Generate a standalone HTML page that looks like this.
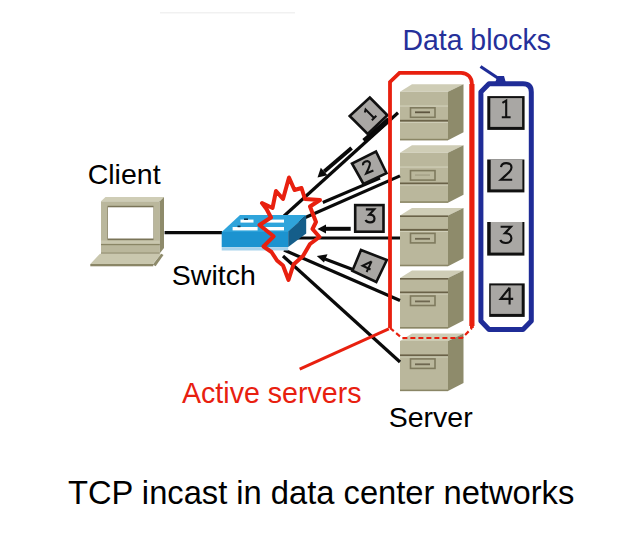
<!DOCTYPE html>
<html><head><meta charset="utf-8"><style>
html,body{margin:0;padding:0;background:#fff;width:640px;height:533px;overflow:hidden}
.t{position:absolute;font-family:"Liberation Sans",sans-serif;line-height:1;white-space:nowrap}
svg{position:absolute;left:0;top:0}
</style></head><body>
<svg width="640" height="533" viewBox="0 0 640 533">
<line x1="160" y1="12.7" x2="295" y2="12.7" stroke="#F1F1F1" stroke-width="1.4"/>
<polygon points="400,91.8 412,84.3 463.5,84.3 448,91.8" fill="#CFCDB6"/>
<rect x="400" y="91.8" width="48" height="48.5" fill="#BAB79C"/>
<polygon points="448,91.8 463.5,84.3 463.5,132.3 448,140.3" fill="#8E8B6B"/>
<rect x="400" y="105.3" width="48" height="1.5" fill="#CCCAB3"/>
<rect x="400" y="119.8" width="48" height="2" fill="#6A6248"/>
<rect x="400" y="121.8" width="48" height="1" fill="#D3D1BC"/>
<rect x="410.5" y="107.8" width="24.5" height="9.5" fill="none" stroke="#7F7A5E" stroke-width="1.6"/>
<rect x="415" y="111.39999999999999" width="15" height="1.8" fill="#5E5640"/>
<rect x="400" y="138.8" width="48" height="1.5" fill="#8A8666"/>
<polygon points="400,152.8 412,145.3 463.5,145.3 448,152.8" fill="#CFCDB6"/>
<rect x="400" y="152.8" width="48" height="50.0" fill="#BAB79C"/>
<polygon points="448,152.8 463.5,145.3 463.5,194.8 448,202.8" fill="#8E8B6B"/>
<rect x="400" y="166.3" width="48" height="1.5" fill="#CCCAB3"/>
<rect x="400" y="182.5" width="48" height="2" fill="#6A6248"/>
<rect x="400" y="184.5" width="48" height="1" fill="#D3D1BC"/>
<rect x="410.5" y="170.60000000000002" width="24.5" height="9.5" fill="none" stroke="#7F7A5E" stroke-width="1.6"/>
<rect x="415" y="174.20000000000002" width="15" height="1.8" fill="#A8A58A"/>
<rect x="400" y="201.3" width="48" height="1.5" fill="#8A8666"/>
<polygon points="400,215.4 412,207.9 463.5,207.9 448,215.4" fill="#CFCDB6"/>
<rect x="400" y="215.4" width="48" height="50.8" fill="#BAB79C"/>
<polygon points="448,215.4 463.5,207.9 463.5,258.2 448,266.2" fill="#8E8B6B"/>
<rect x="400" y="215.4" width="48" height="1.6" fill="#6A6248"/>
<rect x="400" y="228.9" width="48" height="2" fill="#6A6248"/>
<rect x="400" y="230.9" width="48" height="1" fill="#D3D1BC"/>
<rect x="410.5" y="233.4" width="24.5" height="9.5" fill="none" stroke="#7F7A5E" stroke-width="1.6"/>
<rect x="415" y="237.9" width="15" height="1.8" fill="#6E6750"/>
<rect x="400" y="264.7" width="48" height="1.5" fill="#8A8666"/>
<polygon points="400,278.0 412,270.5 463.5,270.5 448,278.0" fill="#CFCDB6"/>
<rect x="400" y="278.0" width="48" height="50.5" fill="#BAB79C"/>
<polygon points="448,278.0 463.5,270.5 463.5,320.5 448,328.5" fill="#8E8B6B"/>
<rect x="400" y="278.0" width="48" height="1.6" fill="#6A6248"/>
<rect x="400" y="291.5" width="48" height="2" fill="#6A6248"/>
<rect x="400" y="293.5" width="48" height="1" fill="#D3D1BC"/>
<rect x="410.5" y="296.0" width="24.5" height="9.5" fill="none" stroke="#7F7A5E" stroke-width="1.6"/>
<rect x="415" y="300.5" width="15" height="1.8" fill="#6E6750"/>
<rect x="400" y="327.0" width="48" height="1.5" fill="#8A8666"/>
<polygon points="400,340.9 412,333.4 463.5,333.4 448,340.9" fill="#CFCDB6"/>
<rect x="400" y="340.9" width="48" height="50.2" fill="#BAB79C"/>
<polygon points="448,340.9 463.5,333.4 463.5,383.09999999999997 448,391.09999999999997" fill="#8E8B6B"/>
<rect x="400" y="354.4" width="48" height="2" fill="#6A6248"/>
<rect x="400" y="356.4" width="48" height="1" fill="#D3D1BC"/>
<rect x="410.5" y="358.9" width="24.5" height="9.5" fill="none" stroke="#7F7A5E" stroke-width="1.6"/>
<rect x="415" y="363.4" width="15" height="1.8" fill="#6E6750"/>
<rect x="400" y="389.59999999999997" width="48" height="1.5" fill="#8A8666"/>

<polygon points="101,201.3 105.5,196.9 164,196.9 159.8,201.3" fill="#CFCDB6"/>
<rect x="101" y="201.3" width="58.8" height="52" fill="#BAB79C"/>
<polygon points="159.8,201.3 164,196.9 164,248 159.8,253.3" fill="#8E8B6B"/>
<rect x="107.5" y="205.8" width="46" height="34.5" fill="#7A7458"/>
<rect x="108" y="207.3" width="45.3" height="31.2" fill="#FFFFFF"/>
<rect x="101" y="240.5" width="58.8" height="3" fill="#C9C7AE"/><rect x="101" y="244" width="58.8" height="1.2" fill="#8A8666"/>
<rect x="101" y="252.6" width="58.8" height="1.2" fill="#8A8666"/><polygon points="100,253.7 161.3,253.7 152.8,264 90.3,264" fill="#C9C7AE"/>
<polygon points="161.3,253.7 163.5,255 155.6,266.3 152.8,264.5" fill="#8E8B6B"/>
<rect x="90.3" y="264" width="63" height="2.3" fill="#8A8666"/>


<g stroke="#0A0A0A" stroke-width="3.2" fill="none">
<line x1="164.6" y1="232.6" x2="222" y2="232.6"/>
<line x1="398" y1="112.8" x2="284" y2="216"/>
<line x1="400" y1="175.9" x2="290" y2="224.3"/>
<line x1="290" y1="238" x2="400" y2="238"/>
<line x1="284" y1="250" x2="400" y2="300.5"/>
<line x1="283" y1="256" x2="400" y2="362"/>
</g>


<polygon points="221.7,232 240,215.1 306.2,215.1 288.2,232" fill="#2FA4DB"/>
<rect x="221.7" y="231.8" width="66.5" height="15.2" fill="#1C93D0"/>
<polygon points="288.2,231.5 306.2,215.3 306.2,233.4 288.2,247.1" fill="#155E8A"/>
<rect x="221.7" y="247.1" width="66.5" height="3.4" fill="#A9D3EC"/>
<g fill="#FFFFFF">
<rect x="240.5" y="219.6" width="13" height="3"/><rect x="266" y="219.6" width="18" height="3"/>
<rect x="232.6" y="227" width="25" height="3.4"/><rect x="263" y="227" width="21" height="3.4"/>
</g>
<g fill="#0B3550">
<rect x="244" y="218.4" width="4" height="1.6"/><rect x="237.5" y="225.6" width="3" height="1.6"/>
</g>

<polygon points="259.5,225 271,217.5 266.5,209 262,203 272.5,208 276,191 283,199 289,177.5 294.5,190 301.5,188 305,199 320,200 310,206.5 312.5,213 316,222 312.5,229 319.5,237 310,244 303,256 293.5,264.5 288.5,280 283,265.5 277,260.5 271.5,252 263.5,246.5 273.6,236.3" fill="none" stroke="#E8200F" stroke-width="4" stroke-linejoin="round"/>

<g stroke="#0A0A0A" fill="#0A0A0A">
<line x1="351.6" y1="148.1" x2="324.2" y2="171.5" stroke-width="4"/>
<line x1="389" y1="119.5" x2="364" y2="141" stroke-width="5"/>
<polygon points="317.5,177.5 327.5,175.2 320.8,167.8" stroke="none"/>
<line x1="380" y1="178.2" x2="322.8" y2="202.5" stroke-width="3"/>
<line x1="350.7" y1="228.8" x2="326" y2="228.8" stroke-width="4"/>
<polygon points="317.5,229 326,224.5 326,233.5" stroke="none"/>
<line x1="356" y1="270.8" x2="325" y2="259" stroke-width="3.2"/>
<polygon points="316.8,256 327.5,254.2 324,262.5" stroke="none"/>
</g>


<polygon points="369.8,97.5 387.4,115.3 367.7,134 349.7,116" fill="#A9A7A4" stroke="#111" stroke-width="2.6"/>
<polygon points="376,151.5 386.5,173.2 363.5,184 352,163.5" fill="#A9A7A4" stroke="#111" stroke-width="2.6"/>
<rect x="355.2" y="205.1" width="28.3" height="26.6" fill="#A9A7A4" stroke="#111" stroke-width="2.6"/>
<polygon points="361,250 386.8,260 376.3,282 352.4,270.8" fill="#A9A7A4" stroke="#111" stroke-width="2.6"/>

<path d="M3.8,2.6 L7.6,0.3 L7.6,17 M3.2,17 L12,17" fill="none" stroke="#111" stroke-width="2.78" transform="translate(369,114.5) rotate(-45) scale(0.72) translate(-6,-8.6)"/>
<path d="M0.8,4.2 C1.2,1.4 3.2,0.2 6,0.2 C9.2,0.2 11.3,2 11.3,4.6 C11.3,7.6 8.6,9.8 0.6,16.9 L12,16.9" fill="none" stroke="#111" stroke-width="3.09" transform="translate(367.5,166.8) rotate(-22) scale(0.68) translate(-6,-8.6)"/>
<path d="M0.8,0.8 L11.2,0.8 L5.2,7.2 C9.4,7 11.6,9.4 11.6,12.2 C11.6,15.2 9.2,17 6,17 C3.4,17 1.4,16 0.4,14" fill="none" stroke="#111" stroke-width="2.75" transform="translate(370,215.7) rotate(0) scale(0.8) translate(-6,-8.6)"/>
<path d="M9.4,0.4 L0.4,11.6 L13,11.6 M9.4,0.4 L9.4,17.2" fill="none" stroke="#111" stroke-width="2.86" transform="translate(367,265.5) rotate(25) scale(0.7) translate(-6,-8.6)"/>


<path d="M390,328 L390,82 L399.5,72.8 L461,72.8 Q466,72.8 469,76 Q471.9,79 471.9,84 L471.9,328" fill="none" stroke="#E8200F" stroke-width="3.8"/>
<line x1="471.9" y1="84" x2="471.9" y2="326" stroke="#E8200F" stroke-width="5.2"/>
<path d="M390,328 L402,338 L462,338 L472,328" fill="none" stroke="#E8200F" stroke-width="2.2" stroke-dasharray="5,3"/>
<line x1="299.7" y1="369.1" x2="388.8" y2="328.8" stroke="#E8200F" stroke-width="3"/>


<path d="M480.9,92 L489,83.8 L523,83.8 Q531.3,83.8 531.3,92 L531.3,321 L523,329.5 L489,329.5 L480.9,321 Z" fill="none" stroke="#1F2C97" stroke-width="5" stroke-linejoin="round"/>
<line x1="482" y1="83.8" x2="530" y2="83.8" stroke="#FFFFFF" stroke-width="0" />
<line x1="480.5" y1="66.5" x2="500" y2="79.5" stroke="#1F2C97" stroke-width="3.2"/>
<polygon points="497.5,76 504,76 506,83 495,83" fill="#1F2C97"/>

<rect x="487.3" y="96.1" width="37.30000000000001" height="33.80000000000001" fill="#111"/>
<rect x="490.3" y="98.1" width="31.80000000000001" height="28.80000000000001" fill="#A9A7A4"/>
<path d="M3.8,2.6 L7.6,0.3 L7.6,17 M3.2,17 L12,17" fill="none" stroke="#111" stroke-width="2.10" transform="translate(504.6,108.8) rotate(0) scale(1.0) translate(-6,-8.6)"/>
<rect x="487.2" y="159.5" width="37.19999999999999" height="32.900000000000006" fill="#111"/>
<rect x="490.7" y="159.5" width="31.69999999999999" height="29.900000000000006" fill="#A9A7A4"/>
<path d="M0.8,4.2 C1.2,1.4 3.2,0.2 6,0.2 C9.2,0.2 11.3,2 11.3,4.6 C11.3,7.6 8.6,9.8 0.6,16.9 L12,16.9" fill="none" stroke="#111" stroke-width="2.10" transform="translate(506.2,171.5) rotate(0) scale(1.0) translate(-6,-8.6)"/>
<rect x="487.2" y="222" width="37.19999999999999" height="33.599999999999994" fill="#111"/>
<rect x="490.7" y="222" width="31.69999999999999" height="30.599999999999994" fill="#A9A7A4"/>
<path d="M0.8,0.8 L11.2,0.8 L5.2,7.2 C9.4,7 11.6,9.4 11.6,12.2 C11.6,15.2 9.2,17 6,17 C3.4,17 1.4,16 0.4,14" fill="none" stroke="#111" stroke-width="2.10" transform="translate(505.8,234.6) rotate(0) scale(1.0) translate(-6,-8.6)"/>
<rect x="489.2" y="283.4" width="35.50000000000006" height="33.5" fill="#111"/>
<rect x="490.7" y="285.4" width="31.000000000000057" height="28.5" fill="#A9A7A4"/>
<path d="M9.4,0.4 L0.4,11.6 L13,11.6 M9.4,0.4 L9.4,17.2" fill="none" stroke="#111" stroke-width="2.10" transform="translate(506.2,295.9) rotate(0) scale(1.0) translate(-6,-8.6)"/>
</svg>
<div class="t" style="left:402.5px;top:25.4px;font-size:28.4px;color:#25309A;transform:scaleY(1.065);transform-origin:50% 50%">Data blocks</div>
<div class="t" style="left:87.7px;top:159.6px;font-size:28.5px;color:#000">Client</div>
<div class="t" style="left:171.8px;top:261.3px;font-size:28.5px;color:#000">Switch</div>
<div class="t" style="left:182px;top:378.5px;font-size:28.6px;color:#E8200F">Active servers</div>
<div class="t" style="left:388.7px;top:403.1px;font-size:28.5px;color:#000">Server</div>
<div class="t" style="left:68px;top:476.8px;font-size:32.7px;color:#000">TCP incast in data center networks</div>
</body></html>
